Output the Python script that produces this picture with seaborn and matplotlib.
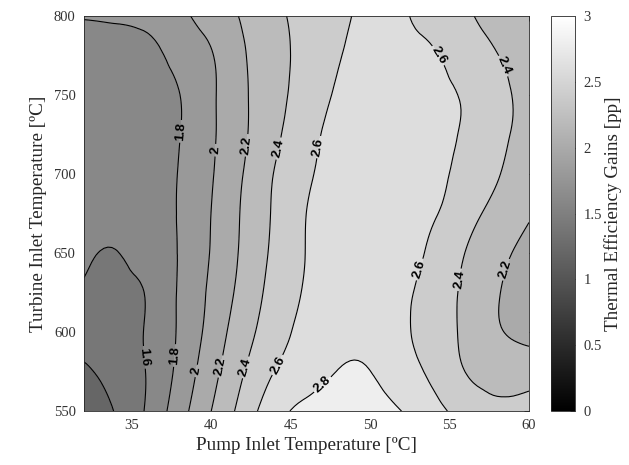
import numpy as np
import pandas as pd
import matplotlib
matplotlib.use("Agg")
import matplotlib.pyplot as plt
import matplotlib as mpl
import matplotlib.tri as mtri
import seaborn as sns

# ---- data ----
pump_inlet_temp = [32, 34, 36, 38, 40, 42, 44, 46, 48, 50, 52, 54, 56, 58, 60]
turbine_inlet_temp = [550, 575, 600, 625, 650, 675, 700, 725, 750, 775, 800]

gain_550 = [1.30, 1.41, 1.629, 1.914, 2.199, 2.475, 2.72, 2.86, 2.90, 2.88, 2.799, 2.662, 2.524, 2.43, 2.48]
gain_575 = [1.37, 1.469, 1.612, 1.853, 2.129, 2.388, 2.603, 2.712, 2.806, 2.802, 2.688, 2.554, 2.398, 2.33, 2.32]
gain_600 = [1.50, 1.52, 1.62, 1.824, 2.071, 2.318, 2.513, 2.66, 2.74, 2.75, 2.637, 2.51, 2.359, 2.221, 2.14]
gain_625 = [1.58, 1.55, 1.615, 1.821, 2.035, 2.267, 2.467, 2.624, 2.74, 2.77, 2.654, 2.513, 2.363, 2.215, 2.067]
gain_650 = [1.63, 1.595, 1.681, 1.81, 2.011, 2.233, 2.442, 2.605, 2.71, 2.77, 2.70, 2.553, 2.397, 2.261, 2.125]
gain_675 = [1.645, 1.65, 1.69, 1.814, 2.001, 2.221, 2.426, 2.601, 2.70, 2.76, 2.70, 2.615, 2.474, 2.34, 2.22]
gain_700 = [1.66, 1.67, 1.70, 1.809, 1.983, 2.199, 2.408, 2.568, 2.68, 2.74, 2.76, 2.657, 2.542, 2.413, 2.284]
gain_725 = [1.67, 1.68, 1.705, 1.795, 1.969, 2.169, 2.362, 2.533, 2.66, 2.72, 2.74, 2.663, 2.578, 2.453, 2.328]
gain_750 = [1.68, 1.69, 1.715, 1.797, 1.966, 2.168, 2.339, 2.488, 2.624, 2.69, 2.72, 2.655, 2.582, 2.461, 2.34]
gain_775 = [1.72, 1.73, 1.75, 1.858, 1.987, 2.18, 2.333, 2.467, 2.588, 2.66, 2.66, 2.615, 2.51, 2.405, 2.30]
gain_800 = [1.81, 1.82, 1.85, 1.95, 2.087, 2.221, 2.359, 2.467, 2.562, 2.64, 2.62, 2.524, 2.429, 2.333, 2.28]

fill_levels = [1.2, 1.4, 1.6, 1.8, 2.0, 2.2, 2.4, 2.6, 2.8, 3.0]
line_levels = [1.4, 1.6, 1.8, 2.0, 2.2, 2.4, 2.6, 2.8]
cbar_ticks = [0, 0.5, 1, 1.5, 2, 2.5, 3]
cbar_ticklabels = ['0', '0.5', '1', '1.5', '2', '2.5', '3']
x_ticks = [35, 40, 45, 50, 55, 60]
y_ticks = [550, 600, 650, 700, 750, 800]

# label anchor spots for the contour labels (x, y)
label_spots = [(38.1, 727), (40.4, 715), (42.4, 718), (44.3, 716), (46.8, 717),
               (54.3, 775), (58.3, 768), (53.3, 639), (55.7, 633), (58.7, 639),
               (35.8, 584), (37.9, 585), (39.3, 575), (40.7, 578), (42.4, 577),
               (44.4, 578), (46.9, 568)]

# ---- build table ----
rows = [gain_550, gain_575, gain_600, gain_625, gain_650, gain_675,
        gain_700, gain_725, gain_750, gain_775, gain_800]
df = pd.DataFrame(rows, index=turbine_inlet_temp, columns=pump_inlet_temp)
xv = df.columns.values.astype(float)
yv = df.index.values.astype(float)
X, Y = np.meshgrid(xv, yv)
Z = df.values
nx, ny = len(xv), len(yv)

# triangulation of the grid (in cell units) so matplotlib's refiner can draw smooth contours
dx = xv[1] - xv[0]
dy = yv[1] - yv[0]
tris = []
for j in range(ny - 1):
    for i in range(nx - 1):
        a = j * nx + i
        tris.append([a, a + 1, a + nx + 1])
        tris.append([a, a + nx + 1, a + nx])
tri_unit = mtri.Triangulation((X.ravel() - xv[0]) / dx, (Y.ravel() - yv[0]) / dy,
                              np.array(tris))
refiner = mtri.UniformTriRefiner(tri_unit)
tri_fine_unit, z_fine = refiner.refine_field(Z.ravel(), subdiv=3)
tri_fine = mtri.Triangulation(tri_fine_unit.x * dx + xv[0], tri_fine_unit.y * dy + yv[0],
                              tri_fine_unit.triangles)

# ---- style ----
sns.set_theme(style="white")
plt.rcParams['font.family'] = ['Liberation Serif', 'DejaVu Serif']
plt.rcParams['axes.edgecolor'] = '#262626'
plt.rcParams['axes.linewidth'] = 0.6
plt.rcParams['xtick.color'] = '#262626'
plt.rcParams['ytick.color'] = '#262626'

fig = plt.figure(figsize=(6.29, 4.65), dpi=100)
ax = fig.add_axes([0.1335, 0.116, 0.7075, 0.8495])
cax = fig.add_axes([0.876, 0.116, 0.038, 0.8495])

cmap = plt.cm.gray
norm = mpl.colors.Normalize(vmin=0, vmax=3)
fill_colors = [cmap(norm(l)) for l in fill_levels[:-1]]

ax.tricontourf(tri_fine, z_fine, levels=fill_levels, colors=fill_colors)
cs = ax.tricontour(tri_fine, z_fine, levels=line_levels, colors='black', linewidths=0.8)
ax.clabel(cs, fmt='%g', manual=label_spots, fontsize=9.5, inline=True,
          inline_spacing=3)
for t in cs.labelTexts:
    t.set_fontfamily('Liberation Sans')
    t.set_fontweight('bold')
    t.set_color('black')

ax.set_xlim(32, 60)
ax.set_ylim(550, 800)
ax.set_xticks(x_ticks)
ax.set_yticks(y_ticks)
ax.tick_params(direction='in', top=True, right=True, length=3.5, width=0.6,
               labelsize=10.5, labelcolor='#333333', pad=6)
ax.set_xlabel('Pump Inlet Temperature [ºC]', fontsize=13.8, color='#262626', labelpad=3)
ax.set_ylabel('Turbine Inlet Temperature [ºC]', fontsize=13.8, color='#262626', labelpad=5)
for s in ax.spines.values():
    s.set_visible(True)

sm = mpl.cm.ScalarMappable(norm=norm, cmap=cmap)
cb = fig.colorbar(sm, cax=cax, ticks=cbar_ticks)
cb.ax.set_yticklabels(cbar_ticklabels)
cb.ax.tick_params(direction='in', length=3.5, width=0.6, labelsize=10.5,
                  labelcolor='#333333', pad=6)
cb.outline.set_linewidth(0.6)
cb.outline.set_edgecolor('#262626')
cb.set_label('Thermal Efficiency Gains [pp]', fontsize=13.8, color='#262626', labelpad=2)

fig.savefig('out.png', dpi=100)
